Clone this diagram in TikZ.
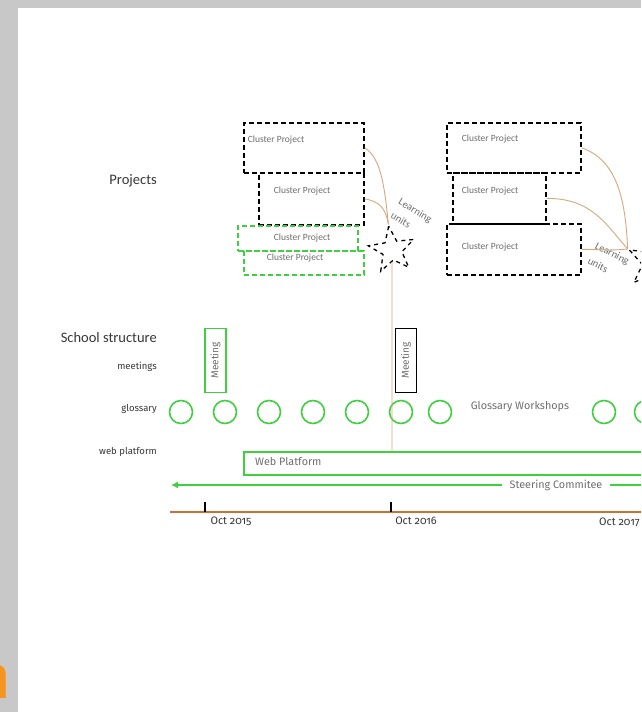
\documentclass[tikz,border=0pt]{standalone}
\usepackage{fontspec}
\setmainfont{Carlito}
\newfontfamily\carl{Carlito}
\newfontfamily\fira[Numbers=OldStyle]{Fira Sans}
\usetikzlibrary{shapes.geometric,arrows.meta}
\definecolor{gbord}{RGB}{200,200,200}
\definecolor{grn}{RGB}{62,208,62}
\definecolor{tanc}{RGB}{214,168,125}
\definecolor{tline}{RGB}{205,110,50}
\definecolor{dtxt}{RGB}{55,55,55}
\definecolor{ltxt}{RGB}{110,110,110}
\definecolor{orn}{RGB}{247,148,29}
\tikzset{
  cpbox/.style={draw=black, line width=1.7, dash pattern=on 5pt off 3pt, inner sep=0, anchor=north west},
  gpbox/.style={draw=grn, line width=1.7, dash pattern=on 5pt off 3pt, inner sep=0, anchor=north west},
  cptext/.style={font=\carl\fontsize{9.5}{10}\selectfont, text=ltxt, inner sep=0},
  heading/.style={font=\carl\fontsize{14.5}{15}\selectfont, text=dtxt, anchor=east, inner sep=0},
  rowlabel/.style={font=\fira\fontsize{9.5}{10}\selectfont, text=dtxt, anchor=east, inner sep=0},
  lustar/.style={star, star points=5, star point ratio=2.4, minimum size=48, draw=black, line width=1.3, dash pattern=on 4pt off 4pt, rotate=8, inner sep=0},
  lutext/.style={font=\carl\fontsize{10.5}{10}\selectfont, text=ltxt, inner sep=0},
  lulink/.style={draw=tanc, line width=0.9},
  meetbox/.style={line width=1.6, minimum width=21, minimum height=64, inner sep=0},
  meettext/.style={rotate=90, font=\fira\fontsize{10}{10}\selectfont, text=ltxt, inner sep=0},
  gcirc/.style={circle, draw=grn, line width=1.6, minimum size=23, inner sep=0},
  plain/.style={font=\fira\fontsize{10.8}{11}\selectfont, text=ltxt, inner sep=0},
  datel/.style={font=\fira\fontsize{10.8}{11}\selectfont, text=dtxt, inner sep=0},
  tick/.style={draw=black, line width=1.6}
}
\begin{document}
\begin{tikzpicture}[x=1pt,y=-1pt]
\useasboundingbox (0,0) rectangle (641,712);
\clip (0,0) rectangle (641,712);
\fill[gbord] (0,0) rectangle (641,712);
\fill[white] (18,8) rectangle (641,712);
\node[font=\fira\fontsize{62}{62}\selectfont, text=orn, anchor=base east, inner sep=0] (logo) at (12.5,698) {n};

% headings
\node[heading] (hproj) at (157,181) {Projects};
\node[heading] (hschool) at (157,338) {School structure};
\node[rowlabel] (lmeet) at (157,367) {meetings};
\node[rowlabel] (lgloss) at (157,409) {glossary};
\node[rowlabel] (lweb) at (157,452) {web platform};

% first cluster group
\node[cpbox, minimum width=120, minimum height=50] (c1) at (243,122) {};
\node[cpbox, minimum width=105, minimum height=52] (c2) at (258,172) {};
\node[gpbox, minimum width=120, minimum height=25] (c3) at (237,225) {};
\node[gpbox, minimum width=120, minimum height=24] (c4) at (243,250) {};
\node[cptext] (t1) at (276,140) {Cluster Project};
\node[cptext] (t2) at (302,191) {Cluster Project};
\node[cptext] (t3) at (302,238) {Cluster Project};
\node[cptext] (t4) at (295,258) {Cluster Project};
\node[lustar] (lu1) at (392,250) {};
\node[lutext, rotate=-31] (lt1a) at (415,211) {Learning};
\node[lutext, rotate=-31] (lt1b) at (401,220) {units};
\draw[lulink] (c1.east) .. controls +(16,10) and +(-4,-40) .. (lu1.outer point 1);
\draw[lulink] (c2.east) .. controls +(16,3) and +(-3,-16) .. (lu1.outer point 1);

% second cluster group
\node[cpbox, minimum width=134, minimum height=50] (d1) at (446,122) {};
\node[cpbox, minimum width=93, minimum height=51] (d2) at (452,172) {};
\node[cpbox, minimum width=134, minimum height=51] (d3) at (446,223) {};
\node[cptext] (u1) at (490,139) {Cluster Project};
\node[cptext] (u2) at (490,191) {Cluster Project};
\node[cptext] (u3) at (490,247) {Cluster Project};
\node[lustar, minimum size=56, rotate=-18] (lu2) at (654,263) {};
\node[lutext, rotate=-27] (lt2a) at (612,254) {Learning};
\node[lutext, rotate=-27] (lt2b) at (598,265) {units};
\draw[lulink] (d1.east) .. controls +(35,12) and +(-2,-50) .. (lu2.outer point 2);
\draw[lulink] (d2.east) .. controls +(45,0) and +(-22,-25) .. (lu2.outer point 2);
\draw[lulink] (d3.east) .. controls +(20,0) and +(-20,2) .. (lu2.outer point 2);

% meetings
\node[meetbox, draw=grn] (m1) at (215.5,360.5) {};
\node[meettext] (mt1) at (m1.center) {Meeting};
\node[meetbox, draw=black] (m2) at (406,360.5) {};
\node[meettext] (mt2) at (m2.center) {Meeting};

% glossary circles
\foreach \i/\x in {1/181,2/225,3/269,4/313,5/357,6/401,7/440,8/604,9/646}{
  \node[gcirc] (g\i) at (\x,412) {};
}
\node[plain] (gw) at (520,407) {Glossary Workshops};

% web platform
\node[draw=grn, line width=1.6, minimum width=420, minimum height=23, anchor=north west, inner sep=0] (wp) at (243,451) {};
\node[plain, anchor=west] (wpt) at (255,462) {Web Platform};
\draw[lulink] (lu1) -- (lu1 |- wp.north);

% steering committee
\coordinate (scL) at (171,485);
\coordinate (scR) at (670,485);
\node[plain, inner xsep=7] (sc) at (556,485) {Steering Commitee};
\draw[draw=grn, line width=1.6, -{Latex[length=7pt,width=7pt]}] (sc.west) -- (scL);
\draw[draw=grn, line width=1.6] (sc.east) -- (scR);

% timeline
\coordinate (tlL) at (170,512);
\coordinate (tlR) at (670,512);
\draw[draw=tline, line width=2.4] (tlL) -- (tlR);
\coordinate (k1) at (205,512);
\coordinate (k2) at (391,512);
\draw[tick] (k1) -- +(0,-10);
\draw[tick] (k2) -- +(0,-10);
\node[datel] (o1) at (231,521) {Oct 2015};
\node[datel] (o2) at (416,521) {Oct 2016};
\node[datel, anchor=west] (o3) at (599,522) {Oct 2017};
\end{tikzpicture}
\end{document}
